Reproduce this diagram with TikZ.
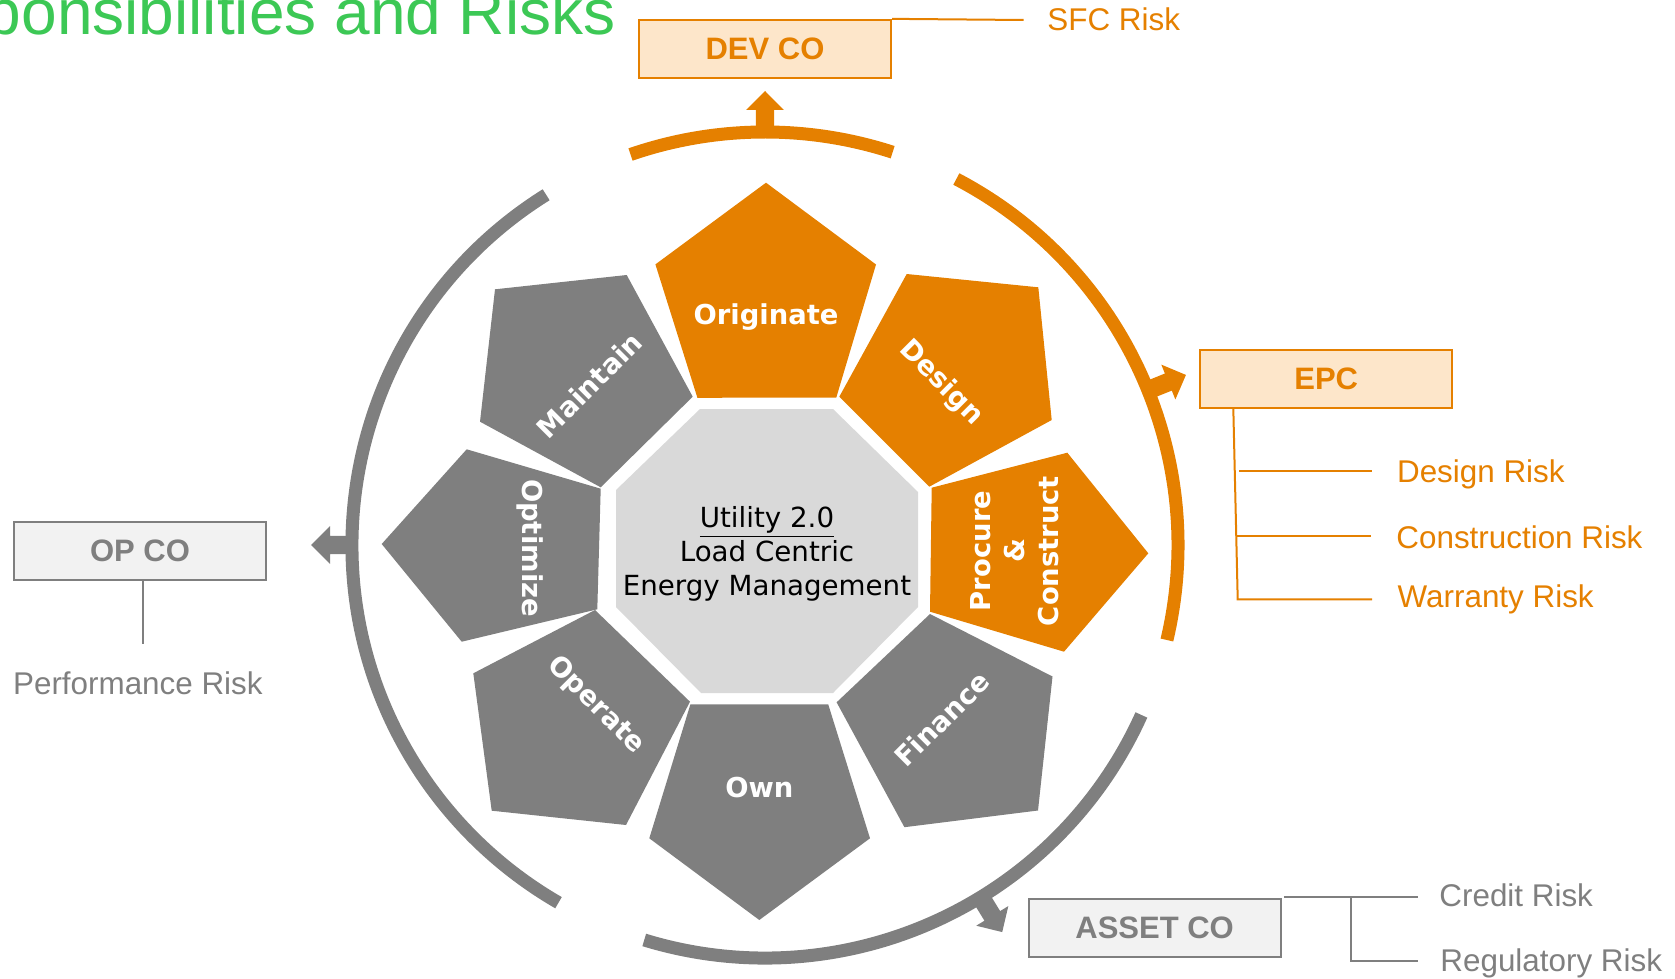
\documentclass[tikz,border=0pt]{standalone}
\usepackage{fontspec}
\setmainfont{Liberation Sans}
\newfontfamily\vfont{DejaVu Sans}
\usetikzlibrary{calc}
\definecolor{orng}{RGB}{229,128,0}
\definecolor{gry}{RGB}{127,127,127}
\definecolor{lorng}{RGB}{253,230,202}
\definecolor{lgry}{RGB}{242,242,242}
\definecolor{octg}{RGB}{217,217,217}
\definecolor{grn}{RGB}{60,200,85}
\tikzset{
  company/.style={draw, line width=1pt, minimum width=126pt, minimum height=29pt, inner sep=0pt,
    font=\fontsize{15.5}{18}\selectfont\bfseries},
  orgbox/.style={company, draw=orng, fill=lorng, text=orng},
  grybox/.style={company, draw=gry, fill=lgry, text=gry},
  risk/.style={font=\fontsize{15.7}{18}\selectfont, inner sep=0pt, anchor=base west},
  orisk/.style={risk, text=orng},
  grisk/.style={risk, text=gry},
  oline/.style={draw=orng, line width=1pt},
  gline/.style={draw=gry, line width=1pt},
  ring/.style={line width=6.5pt},
  plabel/.style={text=white, font=\vfont\bfseries\fontsize{13.7}{17}\selectfont, align=center, inner sep=0pt},
  blockarrow/.pic={\fill[#1] (206.5pt,-4.6pt) -- (217.5pt,-4.6pt) -- (217.5pt,-9.4pt) -- (227pt,0pt)
      -- (217.5pt,9.4pt) -- (217.5pt,4.6pt) -- (206.5pt,4.6pt) -- cycle;}
}
\begin{document}
\begin{tikzpicture}[x=0.5pt, y=-0.5pt]
\useasboundingbox (0,0) rectangle (1675,979);
\def\R{206.5pt}
\coordinate (C) at (765,545);

% title
\node[anchor=base east, text=grn, font=\fontsize{32}{34}\selectfont, inner sep=0pt] (title) at (616,35) {ponsibilities and Risks};

% rings
\draw[ring, orng] ($(C)+(72:\R)$) arc[start angle=72, end angle=109, radius=\R];
\draw[ring, orng] ($(C)+(-13.3:\R)$) arc[start angle=-13.3, end angle=62.4, radius=\R];
\draw[ring, gry] ($(C)+(122:\R)$) arc[start angle=122, end angle=240, radius=\R];
\draw[ring, gry] ($(C)+(253:\R)$) arc[start angle=253, end angle=335.7, radius=\R];

\pic[rotate=90] at (C) {blockarrow=orng};
\pic[rotate=22] at (C) {blockarrow=orng};
\pic[rotate=180] at (C) {blockarrow=gry};
\pic[rotate=-58.5] at (C) {blockarrow=gry};

% pentagons
\fill[orng] (766,182.7) -- (876,264.5) -- (836.3,397.5) -- (697.4,397.8) -- (655.4,264.4) -- cycle;
\fill[orng] (906.7,274) -- (1038.3,287.3) -- (1051.7,420) -- (929.3,486.7) -- (839.3,396.7) -- cycle;
\fill[orng] (1067.3,452.7) -- (1148.3,553.3) -- (1064,651.7) -- (930,611.7) -- (931.7,487.7) -- cycle;
\fill[gry] (930,614) -- (1052.5,676.5) -- (1038,810.5) -- (904.4,827.2) -- (836.6,702.3) -- cycle;
\fill[gry] (690.4,704.3) -- (828.2,704.3) -- (870,838.3) -- (759.3,920) -- (649.3,838.3) -- cycle;
\fill[gry] (473.3,673.3) -- (595,610) -- (690,701.7) -- (626,825) -- (491.7,810.7) -- cycle;
\fill[gry] (466.7,449.3) -- (600.7,488.7) -- (597.3,609.3) -- (461.7,641.7) -- (381.7,544) -- cycle;
\fill[gry] (495,289.3) -- (626.7,275) -- (692.7,396.7) -- (600.7,487.3) -- (480,421.7) -- cycle;

% octagon
\fill[octg] (700,409) -- (833,409) -- (918,492) -- (918,607) -- (833,693) -- (701,693) -- (616,607) -- (616,490) -- cycle;
\node[font=\vfont\fontsize{13.85}{17.15}\selectfont, align=center, inner sep=0pt] (hub) at (767,554)
  {\underline{Utility 2.0}\\Load Centric\\Energy Management};

% pentagon labels
\node[plabel] (originate) at (766,317) {Originate};
\node[plabel, rotate=-45] (design) at (941,383) {Design};
\node[plabel, rotate=90] (procure) at (1015,551) {Procure\\\&\\Construct};
\node[plabel, rotate=45] (finance) at (942,719) {Finance};
\node[plabel] (own) at (759.4,787.3) {Own};
\node[plabel, rotate=-45] (operate) at (595.5,705.5) {Operate};
\node[plabel, rotate=-90] (optimize) at (530,548) {Optimize};
\node[plabel, rotate=45] (maintain) at (589.5,385) {Maintain};

% DEV CO
\node[orgbox] (dev) at (765,48.85) {DEV CO};
\coordinate (sfcend) at (1023.6,20);
\draw[oline] (dev.north east) -- (sfcend);
\node[orisk] (sfc) at (1047,31) {SFC Risk};

% EPC
\node[orgbox] (epc) at (1326.2,379.2) {EPC};
\coordinate (epcT) at (1233.3,408.3);
\coordinate (epcB) at (1237.7,599.3);
\coordinate (wEnd) at (1372,599.3);
\coordinate (dA) at (1239.3,471);
\coordinate (dB) at (1372.3,471);
\coordinate (cA) at (1236.7,536);
\coordinate (cB) at (1371.3,536);
\draw[oline] (epcT) -- (epcB) -- (wEnd);
\draw[oline] (dA) -- (dB);
\draw[oline] (cA) -- (cB);
\node[orisk] (drisk) at (1396.7,482.7) {Design Risk};
\node[orisk] (crisk) at (1396,548.3) {Construction Risk};
\node[orisk] (wrisk) at (1397.3,607.7) {Warranty Risk};

% OP CO
\node[grybox] (op) at (140,550.85) {OP CO};
\coordinate (opEnd) at (142.7,644);
\draw[gline] (op.south -| opEnd) -- (opEnd);
\node[grisk] (prisk) at (12.7,694) {Performance Risk};

% ASSET CO
\node[grybox] (asset) at (1154.6,927.5) {ASSET CO};
\coordinate (aA) at (1283.8,897.3);
\coordinate (aB) at (1418.3,897.3);
\coordinate (aV) at (1351.3,897.3);
\coordinate (aW) at (1351.3,960.7);
\coordinate (aX) at (1418.3,960.7);
\draw[gline] (aA) -- (aB);
\draw[gline] (aV) -- (aW) -- (aX);
\node[grisk] (credit) at (1439,906.7) {Credit Risk};
\node[grisk] (regul) at (1440,971.5) {Regulatory Risk};
\end{tikzpicture}
\end{document}
